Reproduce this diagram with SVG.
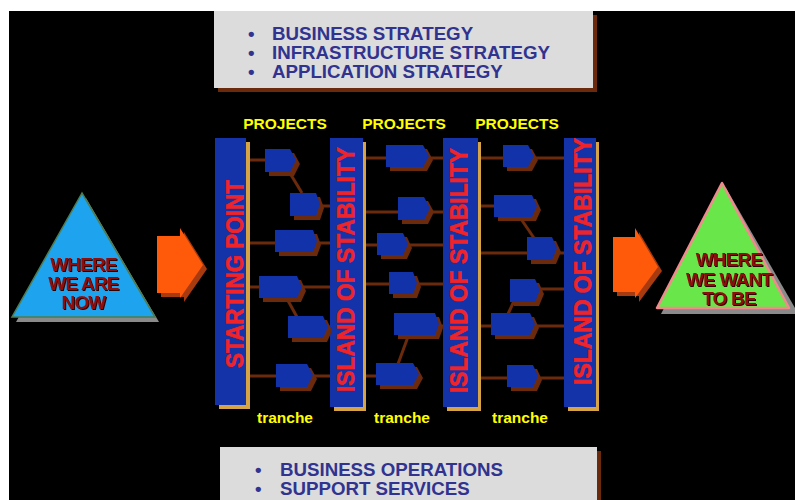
<svg xmlns="http://www.w3.org/2000/svg" width="795" height="500" viewBox="0 0 795 500">
  <defs>
    <filter id="emboss" x="-10%" y="-20%" width="130%" height="150%">
      <feOffset in="SourceAlpha" dx="1" dy="1" result="off"/>
      <feFlood flood-color="#2a0000"/>
      <feComposite in2="off" operator="in" result="shade"/>
      <feMerge>
        <feMergeNode in="shade"/>
        <feMergeNode in="SourceGraphic"/>
      </feMerge>
    </filter>
    <style>
      .panel { fill: #dcdcdc; }
      .panel-shadow { fill: #6b2a0c; }
      .panel-text { font-family: "Liberation Sans", Arial, sans-serif; font-weight: bold; font-size: 18.7px; fill: #30338f; }
      .label { font-family: "Liberation Sans", Arial, sans-serif; font-weight: bold; font-size: 15.5px; fill: #ffff00; text-anchor: middle; }
      .bar { fill: #1433a8; }
      .bar-edge { fill: #d6a444; }
      .bar-text { font-family: "Liberation Sans", Arial, sans-serif; font-weight: bold; font-size: 24px; fill: #f02428; stroke: #f02428; stroke-width: 0.6; text-anchor: middle; }
      .box { fill: #1232aa; }
      .box-shadow { fill: #6b2a0c; }
      .link { stroke: #6b2a0c; stroke-width: 3; fill: none; }
      .arrow { fill: #ff5a0a; }
      .arrow-shadow { fill: #a83a10; }
      .tri-shadow { fill: #8a8a8a; }
      .tri-text { font-family: "Liberation Sans", Arial, sans-serif; font-weight: bold; font-size: 19px; fill: #8e0c0c; text-anchor: middle; letter-spacing: -0.8px; filter: url(#emboss); }
    </style>
  </defs>

  <!-- page -->
  <rect x="0" y="0" width="795" height="500" fill="#ffffff"/>
  <rect x="9" y="11" width="786" height="489" fill="#000000"/>

  <!-- strategy panel -->
  <g id="strategy-panel">
    <rect class="panel-shadow" x="218" y="15" width="379" height="77"/>
    <rect class="panel" x="214" y="11" width="379" height="77"/>
    <text class="panel-text" x="248" y="40">•</text>
    <text class="panel-text" x="272" y="40">BUSINESS STRATEGY</text>
    <text class="panel-text" x="248" y="59">•</text>
    <text class="panel-text" x="272" y="59">INFRASTRUCTURE STRATEGY</text>
    <text class="panel-text" x="248" y="78">•</text>
    <text class="panel-text" x="272" y="78">APPLICATION STRATEGY</text>
  </g>

  <!-- operations panel -->
  <g id="operations-panel">
    <rect class="panel-shadow" x="224" y="451" width="377" height="49"/>
    <rect class="panel" x="220" y="447" width="377" height="53"/>
    <text class="panel-text" x="255" y="476">•</text>
    <text class="panel-text" x="280" y="476">BUSINESS OPERATIONS</text>
    <text class="panel-text" x="255" y="495">•</text>
    <text class="panel-text" x="280" y="495">SUPPORT SERVICES</text>
  </g>

  <!-- column labels -->
  <g id="labels">
    <text class="label" x="285" y="129">PROJECTS</text>
    <text class="label" x="404" y="129">PROJECTS</text>
    <text class="label" x="517" y="129">PROJECTS</text>
    <text class="label" x="285" y="423">tranche</text>
    <text class="label" x="402" y="423">tranche</text>
    <text class="label" x="520" y="423">tranche</text>
  </g>

  <!-- connectors -->
  <g id="connectors">
    <!-- tranche 1 -->
    <line class="link" x1="250" y1="160" x2="266" y2="160"/>
    <line class="link" x1="288" y1="170" x2="302" y2="193"/>
    <line class="link" x1="318" y1="206" x2="330" y2="206"/>
    <line class="link" x1="250" y1="243" x2="276" y2="243"/>
    <line class="link" x1="315" y1="243" x2="330" y2="243"/>
    <line class="link" x1="250" y1="287" x2="260" y2="287"/>
    <line class="link" x1="300" y1="287" x2="330" y2="287"/>
    <line class="link" x1="286" y1="297" x2="297" y2="317"/>
    <line class="link" x1="326" y1="327" x2="330" y2="327"/>
    <line class="link" x1="250" y1="376" x2="277" y2="376"/>
    <line class="link" x1="311" y1="376" x2="330" y2="376"/>
    <!-- tranche 2 -->
    <line class="link" x1="366" y1="158" x2="387" y2="158"/>
    <line class="link" x1="427" y1="158" x2="443" y2="158"/>
    <line class="link" x1="366" y1="212" x2="399" y2="212"/>
    <line class="link" x1="428" y1="212" x2="443" y2="212"/>
    <line class="link" x1="366" y1="245" x2="378" y2="245"/>
    <line class="link" x1="406" y1="245" x2="443" y2="245"/>
    <line class="link" x1="366" y1="284" x2="390" y2="284"/>
    <line class="link" x1="415" y1="284" x2="443" y2="284"/>
    <line class="link" x1="437" y1="326" x2="443" y2="326"/>
    <line class="link" x1="409" y1="334" x2="398" y2="364"/>
    <line class="link" x1="366" y1="376" x2="377" y2="376"/>
    <!-- tranche 3 -->
    <line class="link" x1="481" y1="158" x2="504" y2="158"/>
    <line class="link" x1="532" y1="158" x2="564" y2="158"/>
    <line class="link" x1="481" y1="206" x2="495" y2="206"/>
    <line class="link" x1="519" y1="216" x2="534" y2="238"/>
    <line class="link" x1="481" y1="253" x2="528" y2="253"/>
    <line class="link" x1="555" y1="253" x2="564" y2="253"/>
    <line class="link" x1="538" y1="289" x2="564" y2="289"/>
    <line class="link" x1="514" y1="301" x2="508" y2="314"/>
    <line class="link" x1="481" y1="326" x2="492" y2="326"/>
    <line class="link" x1="533" y1="326" x2="564" y2="326"/>
    <line class="link" x1="481" y1="378" x2="508" y2="378"/>
    <line class="link" x1="536" y1="378" x2="564" y2="378"/>
  </g>

  <!-- milestone bars -->
  <g id="starting-point">
    <rect class="bar-edge" x="219" y="142" width="31" height="267"/>
    <rect class="bar" x="215" y="138" width="31" height="267"/>
    <text class="bar-text" transform="translate(243,274) rotate(-90)" textLength="188" lengthAdjust="spacingAndGlyphs">STARTING POINT</text>
  </g>
  <g id="island-1">
    <rect class="bar-edge" x="334" y="142" width="32" height="269"/>
    <rect class="bar" x="330" y="138" width="33" height="269"/>
    <text class="bar-text" transform="translate(354,269.5) rotate(-90)" textLength="245" lengthAdjust="spacingAndGlyphs">ISLAND OF STABILITY</text>
  </g>
  <g id="island-2">
    <rect class="bar-edge" x="447" y="142" width="34" height="269"/>
    <rect class="bar" x="443" y="138" width="35" height="269"/>
    <text class="bar-text" transform="translate(466.5,270.5) rotate(-90)" textLength="245" lengthAdjust="spacingAndGlyphs">ISLAND OF STABILITY</text>
  </g>
  <g id="island-3">
    <rect class="bar-edge" x="568" y="142" width="31" height="269"/>
    <rect class="bar" x="564" y="138" width="32" height="269"/>
    <text class="bar-text" transform="translate(590.5,261.5) rotate(-90)" textLength="247" lengthAdjust="spacingAndGlyphs">ISLAND OF STABILITY</text>
  </g>

  <!-- projects -->
  <g id="project-a"><polygon class="box-shadow" points="269,153 294,153 300,164 294,176 269,176"/><polygon class="box" points="265,149 290,149 296,160 290,172 265,172"/></g>
  <g id="project-b"><polygon class="box-shadow" points="294,197 320,197 324,208 320,220 294,220"/><polygon class="box" points="290,193 316,193 320,204 316,216 290,216"/></g>
  <g id="project-c"><polygon class="box-shadow" points="279,234 317,234 321,245 317,256 279,256"/><polygon class="box" points="275,230 313,230 317,241 313,252 275,252"/></g>
  <g id="project-d"><polygon class="box-shadow" points="263,280 301,280 306,291 301,302 263,302"/><polygon class="box" points="259,276 297,276 302,287 297,298 259,298"/></g>
  <g id="project-e"><polygon class="box-shadow" points="292,320 327,320 332,331 327,342 292,342"/><polygon class="box" points="288,316 323,316 328,327 323,338 288,338"/></g>
  <g id="project-f"><polygon class="box-shadow" points="280,368 311,368 317,379 311,391 280,391"/><polygon class="box" points="276,364 307,364 313,375 307,387 276,387"/></g>

  <g id="project-g"><polygon class="box-shadow" points="390,149 427,149 433,160 427,171 390,171"/><polygon class="box" points="386,145 423,145 429,156 423,167 386,167"/></g>
  <g id="project-h"><polygon class="box-shadow" points="402,201 428,201 434,212 428,224 402,224"/><polygon class="box" points="398,197 424,197 430,208 424,220 398,220"/></g>
  <g id="project-i"><polygon class="box-shadow" points="381,237 407,237 412,248 407,259 381,259"/><polygon class="box" points="377,233 403,233 408,244 403,255 377,255"/></g>
  <g id="project-j"><polygon class="box-shadow" points="393,276 417,276 421,287 417,298 393,298"/><polygon class="box" points="389,272 413,272 417,283 413,294 389,294"/></g>
  <g id="project-k"><polygon class="box-shadow" points="398,317 439,317 443,328 439,339 398,339"/><polygon class="box" points="394,313 435,313 439,324 435,335 394,335"/></g>
  <g id="project-l"><polygon class="box-shadow" points="380,367 417,367 423,378 417,389 380,389"/><polygon class="box" points="376,363 413,363 419,374 413,385 376,385"/></g>

  <g id="project-m"><polygon class="box-shadow" points="507,149 532,149 538,160 532,171 507,171"/><polygon class="box" points="503,145 528,145 534,156 528,167 503,167"/></g>
  <g id="project-n"><polygon class="box-shadow" points="498,199 536,199 541,210 536,221 498,221"/><polygon class="box" points="494,195 532,195 537,206 532,217 494,217"/></g>
  <g id="project-o"><polygon class="box-shadow" points="531,241 556,241 561,252 556,264 531,264"/><polygon class="box" points="527,237 552,237 557,248 552,260 527,260"/></g>
  <g id="project-p"><polygon class="box-shadow" points="514,283 539,283 544,294 539,306 514,306"/><polygon class="box" points="510,279 535,279 540,290 535,302 510,302"/></g>
  <g id="project-q"><polygon class="box-shadow" points="495,317 534,317 539,328 534,339 495,339"/><polygon class="box" points="491,313 530,313 535,324 530,335 491,335"/></g>
  <g id="project-r"><polygon class="box-shadow" points="511,369 537,369 542,380 537,391 511,391"/><polygon class="box" points="507,365 533,365 538,376 533,387 507,387"/></g>

  <!-- direction arrows -->
  <g id="arrow-in">
    <polygon class="arrow-shadow" points="161,240 184,240 184,232 207,269 184,302 184,297 161,297"/>
    <polygon class="arrow" points="157,236 180,236 180,228 203,265 180,298 180,293 157,293"/>
  </g>
  <g id="arrow-out">
    <polygon class="arrow-shadow" points="617,241 639,241 639,232 662,271 639,302 639,296 617,296"/>
    <polygon class="arrow" points="613,237 635,237 635,228 658,267 635,298 635,292 613,292"/>
  </g>

  <!-- current state -->
  <g id="where-we-are-now">
    <polygon class="tri-shadow" points="86,198 16,322 159,322"/>
    <polygon points="82,193 12,317 155,317" fill="#1ea4ee" stroke="#4c7c50" stroke-width="1.5"/>
    <text class="tri-text" x="83.5" y="271"><tspan x="83.5">WHERE</tspan><tspan x="83.5" dy="19.2">WE ARE</tspan><tspan x="83.5" dy="19.2">NOW</tspan></text>
  </g>

  <!-- target state -->
  <g id="where-we-want-to-be">
    <polygon class="tri-shadow" points="726,188 661,314 795,314 795,308"/>
    <polygon points="722,183 657,308 789,308" fill="#68e64a" stroke="#f08a8c" stroke-width="2.5" stroke-linejoin="round"/>
    <text class="tri-text" x="729" y="266"><tspan x="729">WHERE</tspan><tspan x="729" dy="20">WE WANT</tspan><tspan x="729" dy="19.2">TO BE</tspan></text>
  </g>
</svg>
